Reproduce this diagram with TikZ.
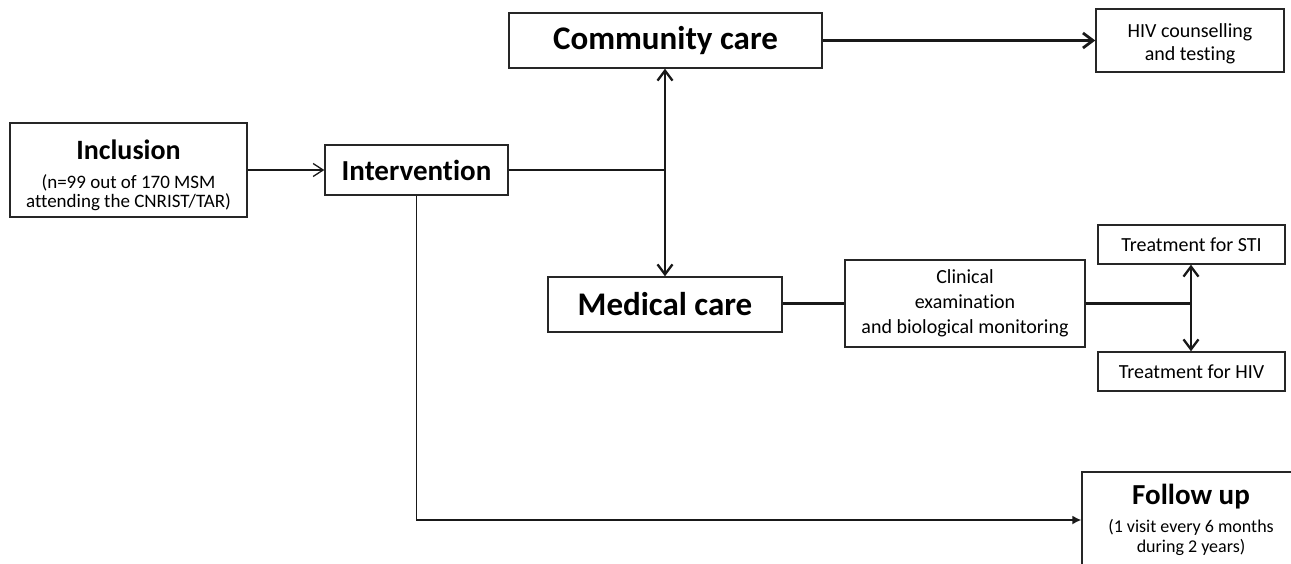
\documentclass[tikz,border=0pt]{standalone}
\usepackage{fontspec}
\setmainfont{Carlito}[Ligatures={NoCommon}]
\usetikzlibrary{arrows.meta}
\begin{document}
\begin{tikzpicture}[x=1pt,y=-1pt,
  box/.style={draw=black!85, line width=1.4pt, fill=white, inner sep=0pt, align=center, text=black},
  conn/.style={line width=2.8pt, draw=black!90},
  vconn/.style={line width=2.3pt, draw=black!90},
  thinconn/.style={line width=1.3pt, draw=black!90},
  vhead/.style={-{Straight Barb[length=10pt,width=15pt]}},
  dblhead/.style={{Straight Barb[length=10pt,width=15pt]}-{Straight Barb[length=10pt,width=15pt]}},
  thinhead/.style={-{Straight Barb[length=10pt,width=13pt]}},
  fillhead/.style={-{Latex[length=9pt,width=9pt]}},
  bigtitle/.style={font=\fontsize{33}{38}\selectfont\bfseries},
  smalltext/.style={font=\fontsize{20}{23.5}\selectfont}
]
\useasboundingbox (0,0) rectangle (1291,563);
\clip (0,0) rectangle (1291,563);
\fill[white] (0,0) rectangle (1291,563);

% boxes
\node[box, minimum width=237pt, minimum height=94pt, font=\fontsize{19}{19}\selectfont] (incl) at (128.5,170)
  {\rule{0pt}{30pt}{\fontsize{28}{30}\selectfont\bfseries Inclusion}\\[10pt](n=99 out of 170 MSM\\attending the CNRIST/TAR)};
\node[box, minimum width=183pt, minimum height=50pt, font=\fontsize{29}{32}\selectfont\bfseries] (interv) at (416.5,170) {Intervention};
\node[box, bigtitle, minimum width=313pt, minimum height=55pt] (comm) at (665.5,40.5) {Community care};
\node[box, smalltext, minimum width=188pt, minimum height=63pt] (hivc) at (1190,40.5) {\rule{0pt}{20pt}HIV counselling\\and testing};
\node[box, minimum width=234pt, minimum height=55pt, bigtitle] (med) at (665,304.5) {Medical care};
\node[box, font=\fontsize{20}{25}\selectfont, minimum width=240pt, minimum height=87pt] (clin) at (965,303.5) {Clinical\\examination\\and biological monitoring};
\node[box, smalltext, minimum width=187pt, minimum height=39pt] (sti) at (1191.5,244.5) {Treatment for STI};
\node[box, smalltext, minimum width=187pt, minimum height=39pt] (hivt) at (1191.5,371.5) {Treatment for HIV};
\node[box, minimum width=218pt, minimum height=96pt, font=\fontsize{18}{20}\selectfont] (fol) at (1191,520)
  {{\fontsize{29}{30}\selectfont\bfseries Follow up}\\[8pt](1 visit every 6 months\\during 2 years)};

% junctions
\coordinate (j1) at (665,170);
\coordinate (j2) at (1191,303.5);

% connectors
\draw[thinconn, thinhead] (incl.east) -- (incl.east -| interv.west);
\draw[conn] (interv.east) -- (j1);
\draw[vconn, dblhead] (j1 |- comm.south) -- (j1 |- med.north);
\draw[conn, vhead] (comm.east) -- (comm.east -| hivc.west);
\draw[conn] (clin.west -| med.east) -- (clin.west);
\draw[conn] (clin.east) -- (j2);
\draw[vconn, dblhead] (j2 |- sti.south) -- (j2 |- hivt.north);
\draw[thinconn, fillhead, line width=1.5pt] (interv.south) |- (fol.west);
\end{tikzpicture}
\end{document}
